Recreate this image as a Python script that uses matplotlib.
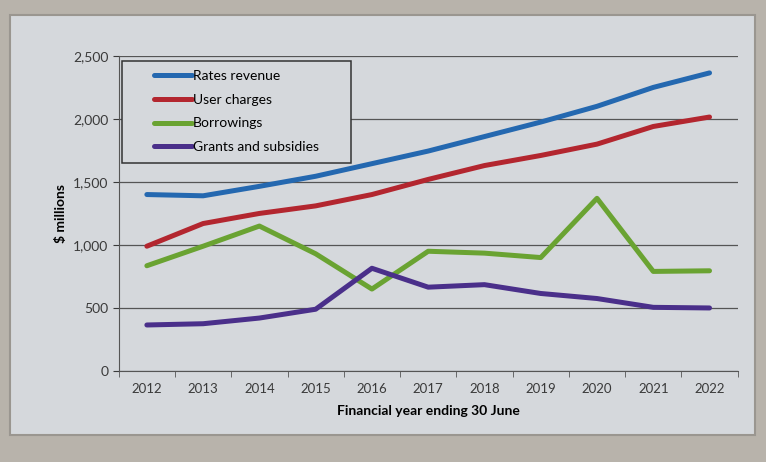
import matplotlib
matplotlib.use("Agg")
import matplotlib.pyplot as plt
from matplotlib.patches import Rectangle
from matplotlib.ticker import FuncFormatter, MultipleLocator

# values ($ millions)
years = [2012, 2013, 2014, 2015, 2016, 2017, 2018, 2019, 2020, 2021, 2022]
rates_revenue = [1400, 1390, 1465, 1545, 1645, 1745, 1860, 1975, 2100, 2250, 2365]
user_charges = [990, 1170, 1250, 1310, 1400, 1520, 1630, 1710, 1800, 1940, 2015]
borrowings = [835, 990, 1150, 930, 650, 950, 935, 900, 1370, 790, 795]
grants = [365, 375, 420, 490, 815, 665, 685, 615, 575, 505, 500]

SERIES = [
    ("Rates revenue", rates_revenue, "#2468b0"),
    ("User charges", user_charges, "#b3262f"),
    ("Borrowings", borrowings, "#6aa332"),
    ("Grants and subsidies", grants, "#4a2f8a"),
]

plt.rcParams["font.family"] = ["Lato", "DejaVu Sans"]

fig = plt.figure(figsize=(7.66, 4.62), dpi=100, facecolor="#b8b3ab")
# the light display panel behind the chart
fig.patches.append(Rectangle((10 / 766, 27 / 462), 745 / 766, 420 / 462,
                             transform=fig.transFigure, facecolor="#d5d8dc",
                             edgecolor="#9a9690", linewidth=1.5, zorder=-10))

ax = fig.add_axes([0.155, 0.197, 0.808, 0.682])
ax.set_zorder(5)
ax.set_facecolor("#d5d8dc")

for label, vals, color in SERIES:
    ax.plot(years, vals, color=color, linewidth=3.6, label=label,
            solid_joinstyle="round", solid_capstyle="round")

ax.set_xlim(2011.5, 2022.5)
ax.set_ylim(0, 2500)
ax.yaxis.set_major_locator(MultipleLocator(500))
ax.yaxis.set_major_formatter(FuncFormatter(lambda v, _: f"{int(v):,}"))
ax.set_xticks(years)
ax.set_xticks([y + 0.5 for y in years[:-1]] + [2011.5, 2022.5], minor=True)
ax.tick_params(axis="x", which="major", length=0, pad=9, labelsize=9.5,
               colors="#3a3a3a")
ax.tick_params(axis="x", which="minor", length=4, direction="out",
               color="#555555")
ax.tick_params(axis="y", length=4, labelsize=10, colors="#3a3a3a")

ax.grid(True, axis="y", color="#555555", linewidth=0.9)
ax.set_axisbelow(True)
for side in ("top", "right"):
    ax.spines[side].set_visible(False)
for side in ("left", "bottom"):
    ax.spines[side].set_color("#555555")

ax.set_ylabel("$ millions", fontsize=10, fontweight="bold", labelpad=4)
ax.set_xlabel("Financial year ending 30 June", fontsize=10,
              fontweight="bold", labelpad=7)

# legend box drawn separately: the original has wide side padding
ax.add_patch(Rectangle((0.006, 0.660), 0.369, 0.324, transform=ax.transAxes,
                       facecolor="#d5d8dc", edgecolor="#333333",
                       linewidth=1.1, zorder=4))
leg = ax.legend(loc="upper left", bbox_to_anchor=(0.045, 0.978),
                fontsize=10, handlelength=2.8, handletextpad=0.05,
                borderpad=0.0, labelspacing=0.85, frameon=False)
leg.set_zorder(6)

fig.savefig("out.png", dpi=100, facecolor=fig.get_facecolor())
